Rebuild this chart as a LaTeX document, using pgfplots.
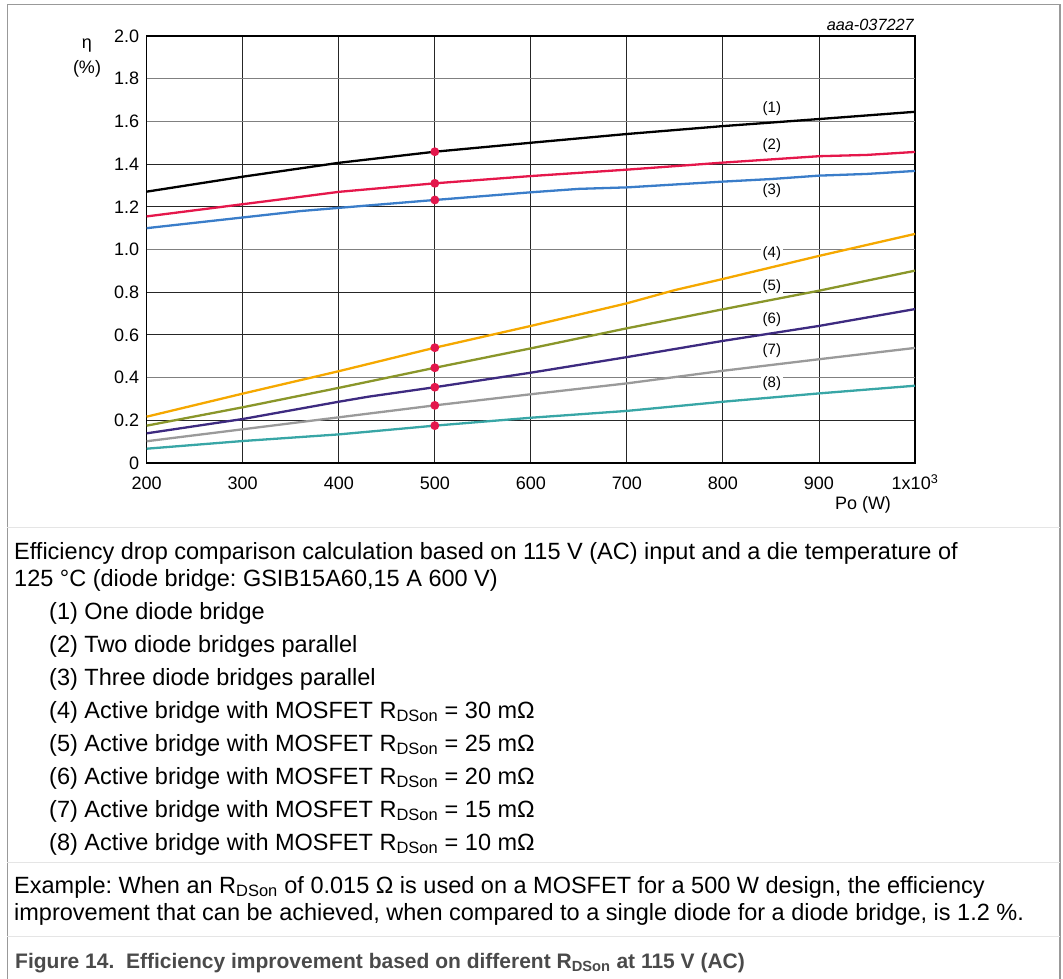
\documentclass[border=0pt]{standalone}
\usepackage{fontspec}
\setmainfont{Liberation Sans}
\usepackage{pgfplots}
\pgfplotsset{compat=1.18}
\definecolor{cA}{HTML}{000000}
\definecolor{cB}{HTML}{E5174B}
\definecolor{cC}{HTML}{3A7DC9}
\definecolor{cD}{HTML}{F5A800}
\definecolor{cE}{HTML}{8A962A}
\definecolor{cF}{HTML}{3D2A80}
\definecolor{cG}{HTML}{9A9A9A}
\definecolor{cH}{HTML}{38A6A6}
\definecolor{dotc}{HTML}{E3174C}
\definecolor{capc}{HTML}{4A4A4A}
\newcommand{\body}{\fontsize{23.5bp}{27bp}\selectfont}
\frenchspacing
\begin{document}
\begin{tikzpicture}
\path[use as bounding box] (0,0) rectangle (1063bp,-979bp);
\draw[black!40, line width=1.3bp] (7.3bp,-990bp) -- (7.3bp,-4.3bp) -- (1060bp,-4.3bp) -- (1060bp,-990bp);
\draw[black!10, line width=0.8bp] (7.3bp,-527.7bp) -- (1060bp,-527.7bp);
\draw[black!10, line width=0.8bp] (7.3bp,-862.7bp) -- (1060bp,-862.7bp);
\draw[black!10, line width=0.8bp] (7.3bp,-936bp) -- (1060bp,-936bp);
\begin{axis}[
  at={(146.7bp,-463bp)}, anchor=south west,
  scale only axis, width=768.3bp, height=427bp,
  xmin=200, xmax=1000, ymin=0, ymax=2,
  xtick={200,300,400,500,600,700,800,900,1000},
  xticklabels={200,300,400,500,600,700,800,900,{1x10\textsuperscript{3}}},
  ytick={0,0.2,0.4,0.6,0.8,1.0,1.2,1.4,1.6,1.8,2.0},
  yticklabels={0,0.2,0.4,0.6,0.8,1.0,1.2,1.4,1.6,1.8,2.0},
  major tick length=0pt,
  grid=major,
  major grid style={black!85, line width=0.9bp},
  axis line style={black, line width=1.2bp},
  tick label style={font=\fontsize{18bp}{21bp}\selectfont},
  xticklabel style={anchor=base, yshift=-26.5bp},
  yticklabel style={xshift=-4bp},
  every axis plot/.append style={line width=2.3bp},
  clip=false,
]
\draw[black!50, line width=0.9bp] (axis cs:200,1.8) -- (axis cs:1000,1.8);
\draw[black!50, line width=0.9bp] (axis cs:200,1.6) -- (axis cs:1000,1.6);
\draw[black!50, line width=0.9bp] (axis cs:200,1.0) -- (axis cs:1000,1.0);
\draw[black!50, line width=0.9bp] (axis cs:200,0.4) -- (axis cs:1000,0.4);
\addplot[cA, no marks] coordinates {(200,1.271)(300,1.341)(400,1.406)(500,1.458)(600,1.500)(700,1.541)(800,1.578)(900,1.611)(1000,1.645)};
\addplot[cB, no marks] coordinates {(200,1.155)(270,1.195)(340,1.235)(400,1.270)(500,1.310)(600,1.344)(700,1.374)(800,1.407)(900,1.437)(950,1.443)(1000,1.457)};
\addplot[cC, no marks] coordinates {(200,1.100)(300,1.150)(360,1.180)(400,1.195)(500,1.232)(600,1.268)(650,1.284)(700,1.291)(800,1.318)(850,1.330)(900,1.346)(950,1.354)(1000,1.368)};
\addplot[cD, no marks] coordinates {(200,0.217)(300,0.325)(400,0.430)(500,0.540)(600,0.642)(700,0.748)(750,0.810)(800,0.862)(900,0.970)(1000,1.073)};
\addplot[cE, no marks] coordinates {(200,0.175)(300,0.261)(400,0.352)(500,0.446)(600,0.537)(700,0.631)(800,0.720)(900,0.807)(1000,0.901)};
\addplot[cF, no marks] coordinates {(200,0.139)(300,0.206)(400,0.287)(430,0.310)(500,0.355)(600,0.423)(700,0.496)(800,0.572)(900,0.642)(1000,0.721)};
\addplot[cG, no marks] coordinates {(200,0.102)(300,0.158)(400,0.214)(500,0.270)(600,0.322)(700,0.373)(800,0.432)(900,0.486)(1000,0.539)};
\addplot[cH, no marks] coordinates {(200,0.067)(300,0.103)(400,0.134)(500,0.175)(600,0.212)(700,0.244)(800,0.287)(900,0.326)(1000,0.362)};
\addplot[only marks, mark=*, mark size=3.2bp, dotc, mark options={draw=dotc, fill=dotc}] coordinates {(500,1.458)(500,1.310)(500,1.232)(500,0.540)(500,0.446)(500,0.355)(500,0.270)(500,0.175)};
\begin{scope}[every node/.style={font=\fontsize{15bp}{17bp}\selectfont, fill=white, inner sep=1.5bp}]
\node at (axis cs:851,1.658) {(1)};
\node at (axis cs:851,1.486) {(2)};
\node at (axis cs:851,1.275) {(3)};
\node at (axis cs:851,0.982) {(4)};
\node at (axis cs:851,0.826) {(5)};
\node at (axis cs:851,0.673) {(6)};
\node at (axis cs:851,0.525) {(7)};
\node at (axis cs:851,0.373) {(8)};
\end{scope}
\end{axis}
\node[anchor=base east, font=\fontsize{16.3bp}{18bp}\selectfont\itshape, inner sep=0] at (914bp,-30bp) {aaa-037227};
\node[font=\fontsize{18bp}{21bp}\selectfont, inner sep=0] at (87bp,-46bp) {η};
\node[font=\fontsize{18bp}{21bp}\selectfont, inner sep=0] at (87bp,-69bp) {(\%)};
\node[font=\fontsize{18bp}{21bp}\selectfont, inner sep=0] at (863bp,-505bp) {Po (W)};
\begin{scope}[every node/.style={anchor=base west, inner sep=0, font=\body}]
\node at (14bp,-559bp) {Efficiency drop comparison calculation based on 115 V (AC) input and a die temperature of};
\node at (14bp,-586bp) {125 °C (diode bridge: GSIB15A60,15 A 600 V)};
\node at (49bp,-619bp) {(1) One diode bridge};
\node at (49bp,-652bp) {(2) Two diode bridges parallel};
\node at (49bp,-685bp) {(3) Three diode bridges parallel};
\node at (49bp,-718bp) {(4) Active bridge with MOSFET R\textsubscript{DSon} = 30 mΩ};
\node at (49bp,-751bp) {(5) Active bridge with MOSFET R\textsubscript{DSon} = 25 mΩ};
\node at (49bp,-784bp) {(6) Active bridge with MOSFET R\textsubscript{DSon} = 20 mΩ};
\node at (49bp,-817bp) {(7) Active bridge with MOSFET R\textsubscript{DSon} = 15 mΩ};
\node at (49bp,-850bp) {(8) Active bridge with MOSFET R\textsubscript{DSon} = 10 mΩ};
\node at (14bp,-893bp) {Example: When an R\textsubscript{DSon} of 0.015 Ω is used on a MOSFET for a 500 W design, the efficiency};
\node at (14bp,-920bp) {improvement that can be achieved, when compared to a single diode for a diode bridge, is 1.2 \%.};
\node[font=\fontsize{21bp}{24bp}\selectfont\bfseries, text=capc] at (15bp,-968bp) {Figure 14.\ \ Efficiency improvement based on different R\textsubscript{DSon} at 115 V (AC)};
\end{scope}
\end{tikzpicture}
\end{document}
